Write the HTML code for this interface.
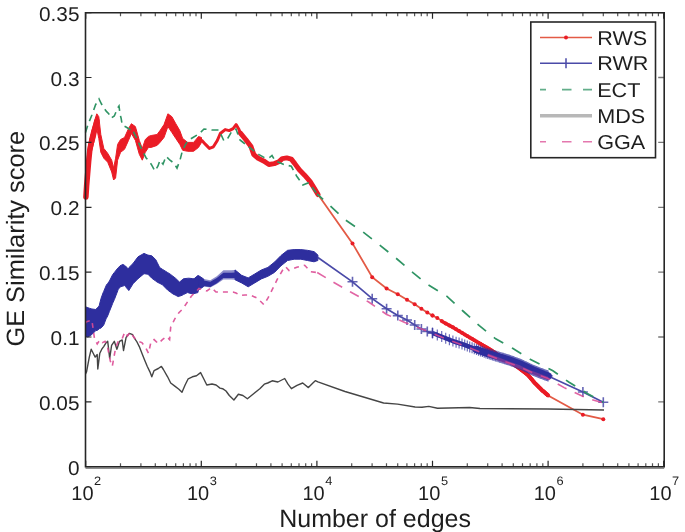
<!DOCTYPE html>
<html><head><meta charset="utf-8"><style>
html,body{margin:0;padding:0;background:#fff;}
svg{display:block;will-change:transform;}
text{font-family:"Liberation Sans",sans-serif;fill:#1e1e1e;}
</style></head><body>
<svg width="685" height="532" viewBox="0 0 685 532" text-rendering="geometricPrecision">
<polygon points="85.5,175.0 87.0,160.0 88.5,145.0 89.9,138.0 91.9,130.0 93.9,124.0 95.4,118.0 96.8,113.8 98.8,116.7 100.8,134.5 103.8,148.4 107.7,153.3 111.7,160.2 113.6,168.0 115.6,158.2 117.6,144.4 120.6,139.5 124.5,137.5 128.5,128.6 131.4,123.7 135.4,126.6 139.3,140.4 142.3,148.4 145.3,139.5 148.5,136.4 151.2,135.5 157.1,134.5 160.0,130.6 164.0,124.6 167.9,113.8 171.9,116.7 175.8,123.7 179.8,130.6 182.7,138.5 187.7,142.4 193.6,142.4 198.5,136.5 201.5,137.5 201.5,142.4 198.5,147.4 193.6,151.3 187.7,151.3 182.7,150.3 179.8,144.4 175.8,138.5 171.9,132.5 167.9,126.6 164.0,137.5 160.0,142.4 157.1,145.4 151.2,147.4 148.5,147.4 145.3,152.3 142.3,160.2 139.3,154.3 135.4,140.4 131.4,133.5 128.5,140.4 124.5,149.3 120.6,152.3 117.6,160.2 115.6,178.0 113.6,180.0 111.7,172.0 107.7,162.2 103.8,158.2 100.8,152.3 98.8,138.5 96.8,128.6 95.4,134.0 93.9,142.0 91.9,150.0 89.9,157.0 88.5,172.0 87.0,190.0 85.5,199.0" fill="#ea1c26" stroke="#ea1c26" stroke-width="1" stroke-linejoin="round"/>
<polyline points="85.9,197 86.6,186 87.6,174 88.6,162 89.8,150 91,144 93,137 95,128 96.8,121" fill="none" stroke="#ea1c26" stroke-width="5.5" stroke-linejoin="round" stroke-linecap="round"/>
<polyline points="201.5,140.0 205.5,144.4 209.4,148.4 213.4,146.8 217.3,140.5 220.3,133.5 225.2,129.6 229.2,130.6 233.1,128.6 236.1,124.6 239.0,129.6 240.4,133.2" fill="none" stroke="#ea1c26" stroke-width="3" stroke-linejoin="round"/>
<polyline points="240.4,133.2 245.7,139.5 251.0,146.6 253.8,154.6 258.2,158.2 263.6,160.9 268.9,164.5 274.3,163.6 278.8,161.8 282.3,158.6 286.8,157.9 291.3,159.1 294.8,163.6 299.3,169.8 304.6,175.2 310.0,181.4 314.5,188.6 318.0,194.5" fill="none" stroke="#ea1c26" stroke-width="5" stroke-linejoin="round" stroke-linecap="round"/>
<polyline points="318.0,194.5 352.5,243.4 372.2,277.2 386.6,288.5 397.8,294.2 407.0,299.8 414.7,304.3 421.4,308.8 427.3,312.5 432.5,315.5 438.2,318.4 442.1,321.5 453.9,327.9 465.1,334.7 476.4,341.4 490.8,350.0 499.0,355.5 505.0,357.5 510.3,362.0 519.0,368.0 528.0,375.0 534.8,383.0 541.6,389.8 548.1,395.5 582.9,414.7 603.3,419.2" fill="none" stroke="#e35a45" stroke-width="1.8"/>
<polyline points="442.1,321.5 453.9,327.9 465.1,334.7 476.4,341.4 490.8,350.0 499.0,355.5 505.0,357.5 510.3,362.0 519.0,368.0 528.0,375.0 534.8,383.0 541.6,389.8 548.1,395.5" fill="none" stroke="#ea1c26" stroke-width="3.5" stroke-linejoin="round"/>
<g fill="#ea1c26"><circle cx="352.5" cy="243.4" r="2"/><circle cx="372.2" cy="277.2" r="2"/><circle cx="386.6" cy="288.5" r="2"/><circle cx="397.8" cy="294.2" r="2"/><circle cx="407.0" cy="299.8" r="2"/><circle cx="414.7" cy="304.3" r="2"/><circle cx="421.4" cy="308.8" r="2"/><circle cx="427.3" cy="312.5" r="2"/><circle cx="432.5" cy="315.5" r="2"/><circle cx="582.9" cy="414.7" r="2"/><circle cx="603.3" cy="419.2" r="2"/><circle cx="432.5" cy="315.5" r="2"/><circle cx="437.3" cy="317.9" r="2"/><circle cx="441.7" cy="321.1" r="2"/><circle cx="445.7" cy="323.4" r="2"/><circle cx="449.4" cy="325.5" r="2"/><circle cx="452.9" cy="327.3" r="2"/><circle cx="456.1" cy="329.2" r="2"/><circle cx="459.1" cy="331.1" r="2"/><circle cx="462.0" cy="332.8" r="2"/><circle cx="464.7" cy="334.5" r="2"/><circle cx="467.3" cy="336.0" r="2"/><circle cx="469.7" cy="337.5" r="2"/><circle cx="472.1" cy="338.8" r="2"/><circle cx="474.3" cy="340.2" r="2"/><circle cx="476.5" cy="341.4" r="2"/><circle cx="478.5" cy="342.7" r="2"/><circle cx="480.5" cy="343.8" r="2"/><circle cx="482.4" cy="345.0" r="2"/><circle cx="484.2" cy="346.1" r="2"/><circle cx="486.0" cy="347.1" r="2"/><circle cx="487.7" cy="348.1" r="2"/><circle cx="489.3" cy="349.1" r="2"/><circle cx="490.9" cy="350.1" r="2"/><circle cx="492.4" cy="351.1" r="2"/><circle cx="493.9" cy="352.1" r="2"/><circle cx="495.4" cy="353.1" r="2"/><circle cx="496.8" cy="354.0" r="2"/><circle cx="498.2" cy="355.0" r="2"/><circle cx="499.5" cy="355.7" r="2"/><circle cx="500.8" cy="356.1" r="2"/><circle cx="502.1" cy="356.5" r="2"/><circle cx="503.3" cy="356.9" r="2"/><circle cx="504.5" cy="357.3" r="2"/><circle cx="505.7" cy="358.1" r="2"/><circle cx="506.9" cy="359.1" r="2"/><circle cx="508.0" cy="360.1" r="2"/><circle cx="509.1" cy="361.0" r="2"/><circle cx="510.2" cy="361.9" r="2"/><circle cx="511.3" cy="362.7" r="2"/><circle cx="512.3" cy="363.4" r="2"/><circle cx="513.3" cy="364.1" r="2"/><circle cx="514.3" cy="364.8" r="2"/><circle cx="515.3" cy="365.4" r="2"/><circle cx="516.2" cy="366.1" r="2"/><circle cx="517.2" cy="366.7" r="2"/><circle cx="518.1" cy="367.4" r="2"/><circle cx="519.0" cy="368.0" r="2"/><circle cx="519.9" cy="368.7" r="2"/><circle cx="520.8" cy="369.4" r="2"/><circle cx="521.6" cy="370.0" r="2"/><circle cx="522.5" cy="370.7" r="2"/><circle cx="523.3" cy="371.3" r="2"/><circle cx="524.1" cy="372.0" r="2"/><circle cx="524.9" cy="372.6" r="2"/><circle cx="525.7" cy="373.2" r="2"/><circle cx="526.5" cy="373.8" r="2"/><circle cx="527.2" cy="374.4" r="2"/><circle cx="528.0" cy="375.0" r="2"/><circle cx="528.7" cy="375.9" r="2"/><circle cx="529.5" cy="376.7" r="2"/><circle cx="530.2" cy="377.6" r="2"/><circle cx="530.9" cy="378.4" r="2"/><circle cx="531.6" cy="379.2" r="2"/><circle cx="532.3" cy="380.1" r="2"/><circle cx="533.0" cy="380.9" r="2"/><circle cx="533.7" cy="381.7" r="2"/><circle cx="534.3" cy="382.4" r="2"/><circle cx="535.0" cy="383.2" r="2"/><circle cx="535.6" cy="383.8" r="2"/><circle cx="536.3" cy="384.5" r="2"/><circle cx="536.9" cy="385.1" r="2"/><circle cx="537.5" cy="385.7" r="2"/><circle cx="538.1" cy="386.3" r="2"/><circle cx="538.7" cy="386.9" r="2"/><circle cx="539.3" cy="387.5" r="2"/><circle cx="539.9" cy="388.1" r="2"/><circle cx="540.5" cy="388.7" r="2"/><circle cx="541.1" cy="389.3" r="2"/><circle cx="541.7" cy="389.9" r="2"/><circle cx="542.2" cy="390.4" r="2"/><circle cx="542.8" cy="390.9" r="2"/><circle cx="543.4" cy="391.3" r="2"/><circle cx="543.9" cy="391.8" r="2"/><circle cx="544.5" cy="392.3" r="2"/><circle cx="545.0" cy="392.8" r="2"/><circle cx="545.5" cy="393.2" r="2"/><circle cx="546.1" cy="393.7" r="2"/><circle cx="546.6" cy="394.2" r="2"/><circle cx="547.1" cy="394.6" r="2"/><circle cx="547.6" cy="395.1" r="2"/><circle cx="548.1" cy="395.5" r="2"/></g>
<polygon points="85.5,306.8 87.9,307.7 89.3,308.2 91.9,309.0 92.0,309.0 95.8,309.5 97.2,307.9 99.1,306.1 99.2,305.6 101.1,298.2 103.0,293.0 103.7,291.4 106.0,285.9 106.4,285.0 107.7,283.4 108.0,283.0 109.4,281.1 112.7,274.5 112.9,274.3 114.3,272.5 114.4,272.4 117.8,268.1 118.2,267.9 120.0,265.8 122.9,264.4 124.6,265.4 125.5,266.0 127.9,268.6 128.8,267.7 133.0,263.5 138.0,256.8 144.0,253.4 147.9,255.1 151.8,255.8 155.8,259.7 157.1,262.3 159.7,267.6 162.4,269.3 165.0,270.9 167.6,272.5 170.3,274.2 172.9,276.2 175.5,278.2 178.2,280.8 179.5,282.1 182.1,279.9 183.4,278.8 187.4,278.3 188.7,278.2 192.6,278.6 194.0,278.8 197.9,275.5 198.4,275.5 203.7,279.0 203.7,286.5 198.4,290.0 197.9,292.6 194.0,293.6 192.6,293.9 188.7,292.9 187.4,292.6 183.4,294.6 182.1,295.3 179.5,296.2 178.2,296.6 175.5,295.2 172.9,293.9 170.3,292.0 167.6,290.0 165.0,287.4 162.4,284.7 159.7,283.4 157.1,282.1 155.8,281.1 151.8,278.2 147.9,274.2 144.0,273.7 138.0,278.7 133.0,283.8 128.8,290.6 127.9,289.5 125.5,286.6 124.6,285.5 122.9,286.1 120.0,287.0 118.2,289.6 117.8,290.6 114.4,299.5 114.3,299.7 112.9,302.8 112.7,303.3 109.4,311.5 108.0,315.1 107.7,315.9 106.4,318.3 106.0,319.0 103.7,325.1 103.0,325.9 101.1,327.9 99.2,328.8 99.1,328.9 97.2,330.4 95.8,330.6 92.0,334.4 91.9,334.5 89.3,336.2 87.9,337.1 85.5,336.0" fill="#2e2e9e" stroke="#2e2e9e" stroke-width="1" stroke-linejoin="round"/>
<polygon points="198.4,275.5 203.7,279.0 210.3,280.3 216.8,276.3 223.4,270.3 231.3,270.3 235.0,269.9 241.6,275.3 241.6,282.9 235.0,279.7 231.3,279.5 223.4,279.5 216.8,283.9 210.3,287.4 203.7,286.5 198.4,290.0" fill="#2e2e9e" fill-opacity="0.55" stroke="none"/>
<polygon points="198.4,280.6 203.7,280.6 210.3,281.7 216.8,277.9 223.4,272.7 231.3,272.7 235.0,272.6 241.6,276.9 241.6,282.3 235.0,278.0 231.3,278.1 223.4,278.1 216.8,283.3 210.3,287.1 203.7,285.9 198.4,285.9" fill="#2e2e9e" stroke="none"/>
<polygon points="235.0,269.9 241.6,275.3 248.2,277.9 254.7,274.0 261.3,270.0 267.9,267.4 274.5,262.1 281.0,255.5 287.6,250.3 294.2,249.6 300.8,249.6 307.4,250.3 314.0,251.6 317.9,255.0 317.9,260.5 314.0,261.8 307.4,260.5 300.8,259.2 294.2,259.2 287.6,260.5 281.0,265.8 274.5,272.4 267.9,276.3 261.3,278.9 254.7,282.9 248.2,286.8 241.6,282.9 235.0,279.7" fill="#2e2e9e" stroke="#2e2e9e" stroke-width="1" stroke-linejoin="round"/>
<polyline points="317.9,257.5 352.5,281.8 372.2,298.7 386.6,308.8 397.8,315.6 407.0,320.0 414.7,325.0 421.4,329.0 427.3,331.5 432.5,333.0 442.6,337.0 453.9,341.5 464.5,344.8 476.4,349.5 487.7,353.5 499.0,357.0 510.3,360.5 521.6,364.8 532.6,370.0 543.9,374.5 548.1,376.0 582.9,392.0 603.3,402.2" fill="none" stroke="#4a4aa8" stroke-width="1.7"/>
<polyline points="432.5,333.0 442.6,337.0 453.9,341.5 464.5,344.8 476.4,349.5 487.7,353.5 499.0,357.0 510.3,360.5 521.6,364.8 532.6,370.0 543.9,374.5 548.1,376.0" fill="none" stroke="#2e2e9e" stroke-width="4.5" stroke-linejoin="round"/>
<polyline points="476.4,349.5 487.7,353.5 499.0,357.0 510.3,360.5 521.6,364.8 532.6,370.0 543.9,374.5 548.1,376.0" fill="none" stroke="#2e2e9e" stroke-width="7.5" stroke-linejoin="round" stroke-linecap="round"/>
<path d="M347.5 281.8h10M352.5 276.8v10M367.2 298.7h10M372.2 293.7v10M381.6 308.8h10M386.6 303.8v10M392.8 315.6h10M397.8 310.6v10M402.0 320.0h10M407.0 315.0v10M409.7 325.0h10M414.7 320.0v10M416.4 329.0h10M421.4 324.0v10M422.3 331.5h10M427.3 326.5v10M427.5 333.0h10M432.5 328.0v10M577.9 392.0h10M582.9 387.0v10M598.3 402.2h10M603.3 397.2v10" stroke="#4a4aa8" stroke-width="1.6" opacity="0.85"/>
<path d="M427.5 333.0h10M432.5 327.5v11M432.3 334.9h10M437.3 329.4v11M436.7 336.6h10M441.7 331.1v11M440.7 338.2h10M445.7 332.7v11M444.4 339.7h10M449.4 334.2v11M447.9 341.1h10M452.9 335.6v11M451.1 342.2h10M456.1 336.7v11M454.1 343.1h10M459.1 337.6v11M457.0 344.0h10M462.0 338.5v11M459.7 344.9h10M464.7 339.4v11M462.3 345.9h10M467.3 340.4v11M464.7 346.9h10M469.7 341.4v11M467.1 347.8h10M472.1 342.3v11M469.3 348.7h10M474.3 343.2v11M471.5 349.5h10M476.5 344.0v11M473.5 350.2h10M478.5 344.7v11M475.5 350.9h10M480.5 345.4v11M477.4 351.6h10M482.4 346.1v11M479.2 352.3h10M484.2 346.8v11M481.0 352.9h10M486.0 347.4v11M482.7 353.5h10M487.7 348.0v11M484.3 354.0h10M489.3 348.5v11M485.9 354.5h10M490.9 349.0v11M487.4 355.0h10M492.4 349.5v11M488.9 355.4h10M493.9 349.9v11M490.4 355.9h10M495.4 350.4v11M491.8 356.3h10M496.8 350.8v11M493.2 356.7h10M498.2 351.2v11M494.5 357.2h10M499.5 351.7v11M495.8 357.6h10M500.8 352.1v11M497.1 358.0h10M502.1 352.5v11M498.3 358.3h10M503.3 352.8v11M499.5 358.7h10M504.5 353.2v11M500.7 359.1h10M505.7 353.6v11M501.9 359.4h10M506.9 353.9v11M503.0 359.8h10M508.0 354.3v11M504.1 360.1h10M509.1 354.6v11M505.2 360.5h10M510.2 355.0v11M506.3 360.9h10M511.3 355.4v11M507.3 361.3h10M512.3 355.8v11M508.3 361.6h10M513.3 356.1v11M509.3 362.0h10M514.3 356.5v11M510.3 362.4h10M515.3 356.9v11M511.2 362.8h10M516.2 357.3v11M512.2 363.1h10M517.2 357.6v11M513.1 363.5h10M518.1 358.0v11M514.0 363.8h10M519.0 358.3v11M514.9 364.1h10M519.9 358.6v11M515.8 364.5h10M520.8 359.0v11M516.6 364.8h10M521.6 359.3v11M517.5 365.2h10M522.5 359.7v11M518.3 365.6h10M523.3 360.1v11M519.1 366.0h10M524.1 360.5v11M519.9 366.4h10M524.9 360.9v11M520.7 366.7h10M525.7 361.2v11M521.5 367.1h10M526.5 361.6v11M522.2 367.5h10M527.2 362.0v11M523.0 367.8h10M528.0 362.3v11M523.7 368.2h10M528.7 362.7v11M524.5 368.5h10M529.5 363.0v11M525.2 368.9h10M530.2 363.4v11M525.9 369.2h10M530.9 363.7v11M526.6 369.5h10M531.6 364.0v11M527.3 369.9h10M532.3 364.4v11M528.0 370.2h10M533.0 364.7v11M528.7 370.4h10M533.7 364.9v11M529.3 370.7h10M534.3 365.2v11M530.0 370.9h10M535.0 365.4v11M530.6 371.2h10M535.6 365.7v11M531.3 371.5h10M536.3 366.0v11M531.9 371.7h10M536.9 366.2v11M532.5 372.0h10M537.5 366.5v11M533.1 372.2h10M538.1 366.7v11M533.7 372.4h10M538.7 366.9v11M534.3 372.7h10M539.3 367.2v11M534.9 372.9h10M539.9 367.4v11M535.5 373.2h10M540.5 367.7v11M536.1 373.4h10M541.1 367.9v11M536.7 373.6h10M541.7 368.1v11M537.2 373.8h10M542.2 368.3v11M537.8 374.1h10M542.8 368.6v11M538.4 374.3h10M543.4 368.8v11M538.9 374.5h10M543.9 369.0v11M539.5 374.7h10M544.5 369.2v11M540.0 374.9h10M545.0 369.4v11M540.5 375.1h10M545.5 369.6v11M541.1 375.3h10M546.1 369.8v11M541.6 375.5h10M546.6 370.0v11M542.1 375.6h10M547.1 370.1v11M542.6 375.8h10M547.6 370.3v11M543.1 376.0h10M548.1 370.5v11" stroke="#2e2e9e" stroke-width="1.2" opacity="0.7"/>
<polyline points="85.5,132.5 88.0,124.6 92.0,114.8 95.5,104.9 99.0,99.0 101.5,104.0 104.0,108.0 106.4,111.4 108.7,113.7 111.0,118.2 114.3,116.0 117.7,108.0 119.0,106.0 120.0,113.7 121.1,118.2 122.2,125.0 126.0,127.0 130.0,129.5 131.3,128.4 133.5,131.8 137.0,139.0 141.4,148.7 146.0,157.7 151.2,164.2 155.0,171.0 158.0,166.0 160.0,160.2 163.0,164.2 166.0,156.3 170.0,160.2 174.0,163.2 177.0,168.1 180.0,160.2 182.0,152.3 185.0,145.4 188.0,140.4 193.0,137.5 198.0,134.5 200.0,133.0 204.0,129.0 212.0,130.0 219.0,130.0 224.0,141.0 228.0,138.0 232.0,131.0 236.0,129.0 240.0,140.0 243.9,143.0 252.9,150.2 259.1,154.6 265.0,158.0 269.8,157.3 272.0,155.5 275.2,160.9 284.1,164.5 291.3,166.3 296.6,176.0 302.9,185.0 308.0,183.0 311.8,186.8 317.1,194.0" fill="none" stroke="#2f9464" stroke-width="1.6" stroke-dasharray="7,5"/>
<polyline points="317.1,194.0 327.0,202.7 345.0,219.7 363.0,232.0 379.0,244.5 397.0,259.0 412.9,272.7 426.8,283.9 447.0,296.4 463.5,311.5 479.3,325.7 495.7,338.8 512.6,348.3 530.6,359.6 552.9,370.8 568.7,382.0 586.7,393.2 603.3,402.2" fill="none" stroke="#2f9464" stroke-width="1.7" stroke-dasharray="11,10" stroke-dashoffset="3"/>
<polyline points="85.5,374.0 86.6,371.6 89.3,357.1 91.2,349.2 93.2,353.2 95.2,357.1 97.2,354.5 97.8,369.0 99.8,353.2 101.8,349.2 103.7,346.6 105.7,343.3 107.7,341.3 109.7,358.4 111.6,345.3 114.3,341.3 116.9,349.2 119.5,341.3 122.2,340.0 123.5,350.5 126.1,337.4 129.4,333.4 132.7,334.7 134.7,338.7 136.6,341.3 139.3,346.6 141.9,353.2 144.5,359.7 147.2,366.3 149.8,371.6 151.8,376.8 154.1,370.6 158.3,368.5 161.4,366.4 163.4,369.5 167.6,376.8 170.7,383.0 174.8,386.1 178.9,389.2 182.0,392.3 185.1,385.0 188.2,378.8 192.4,376.8 196.5,375.7 200.6,372.6 203.7,378.8 206.8,385.0 212.0,384.0 216.1,385.0 220.0,388.1 222.6,388.7 226.0,391.0 229.3,395.5 233.9,400.0 238.4,394.3 242.9,395.5 247.4,398.8 254.2,393.2 259.8,388.7 264.3,384.2 267.7,383.0 272.2,380.8 277.9,382.0 284.7,378.5 288.0,384.2 291.4,388.7 297.0,385.3 302.7,383.0 308.4,387.6 312.9,383.0 315.3,380.7 317.9,381.9 345.0,391.5 383.6,403.0 397.6,404.1 415.1,407.0 422.0,407.3 428.8,406.4 437.5,408.3 469.6,407.5 480.0,408.5 548.0,409.0 604.0,410.0" fill="none" stroke="#454545" stroke-width="1.4" stroke-linejoin="round"/>
<polyline points="85.5,323.0 86.6,321.6 91.9,320.3 94.5,338.7 97.2,344.0 99.8,340.0 102.4,342.6 105.0,341.3 107.7,347.9 110.3,361.0 112.3,366.3 115.6,347.9 118.2,341.3 122.2,338.7 124.8,332.1 127.4,336.0 130.0,332.1 134.0,337.4 137.9,341.3 141.9,342.6 145.8,347.9 148.5,353.2 151.1,341.3 154.1,339.6 158.3,343.7 162.4,339.6 166.5,336.5 169.6,339.6 170.7,327.2 174.8,318.9 178.9,312.7 183.0,308.6 187.2,302.4 191.3,296.2 195.5,292.0 199.0,288.5 203.0,290.0 207.0,291.0 211.3,287.6 216.0,292.0 222.6,292.0 229.0,292.0 233.0,292.0 236.0,293.0 240.3,295.5 245.0,295.0 250.1,294.9 257.4,298.2 263.9,304.7 267.9,298.2 273.2,287.6 277.1,279.7 282.4,270.5 285.5,266.6 289.0,270.5 296.8,267.2 304.7,265.3 310.7,271.8 317.2,272.5" fill="none" stroke="#dc4a94" stroke-width="1.6" stroke-dasharray="5,5" opacity="0.9"/>
<polyline points="317.2,272.5 332.6,281.8 350.6,292.0 368.7,302.0 386.7,314.5 404.8,322.4 425.0,330.3 442.6,337.5 465.0,346.0 487.7,355.0 505.0,361.5 520.0,367.0 532.0,372.5 548.0,378.5 564.2,387.6 585.6,397.7 603.3,403.0" fill="none" stroke="#dc4a94" stroke-width="1.6" stroke-dasharray="10,9" opacity="0.85"/>
<polyline points="487.7,355.0 505.0,361.5 520.0,367.0 532.0,372.5 548.0,378.5" fill="none" stroke="#dc4a94" stroke-width="3" opacity="0.35" stroke-linejoin="round"/>
<path d="M85.7 466.7v-6M85.7 12.7v6M201.3 466.7v-6M201.3 12.7v6M316.9 466.7v-6M316.9 12.7v6M432.5 466.7v-6M432.5 12.7v6M548.1 466.7v-6M548.1 12.7v6M663.7 466.7v-6M663.7 12.7v6M85.5 466.7h6M85.5 401.8h6M85.5 337.0h6M85.5 272.1h6M85.5 207.3h6M85.5 142.4h6M85.5 77.5h6M85.5 12.7h6" stroke="#262626" stroke-width="1.2" fill="none"/>
<path d="M120.5 466.7v-3.5M120.5 12.7v3.5M140.9 466.7v-3.5M140.9 12.7v3.5M155.3 466.7v-3.5M155.3 12.7v3.5M166.5 466.7v-3.5M166.5 12.7v3.5M175.7 466.7v-3.5M175.7 12.7v3.5M183.4 466.7v-3.5M183.4 12.7v3.5M190.1 466.7v-3.5M190.1 12.7v3.5M196.0 466.7v-3.5M196.0 12.7v3.5M236.1 466.7v-3.5M236.1 12.7v3.5M256.5 466.7v-3.5M256.5 12.7v3.5M270.9 466.7v-3.5M270.9 12.7v3.5M282.1 466.7v-3.5M282.1 12.7v3.5M291.3 466.7v-3.5M291.3 12.7v3.5M299.0 466.7v-3.5M299.0 12.7v3.5M305.7 466.7v-3.5M305.7 12.7v3.5M311.6 466.7v-3.5M311.6 12.7v3.5M351.7 466.7v-3.5M351.7 12.7v3.5M372.1 466.7v-3.5M372.1 12.7v3.5M386.5 466.7v-3.5M386.5 12.7v3.5M397.7 466.7v-3.5M397.7 12.7v3.5M406.9 466.7v-3.5M406.9 12.7v3.5M414.6 466.7v-3.5M414.6 12.7v3.5M421.3 466.7v-3.5M421.3 12.7v3.5M427.2 466.7v-3.5M427.2 12.7v3.5M467.3 466.7v-3.5M467.3 12.7v3.5M487.7 466.7v-3.5M487.7 12.7v3.5M502.1 466.7v-3.5M502.1 12.7v3.5M513.3 466.7v-3.5M513.3 12.7v3.5M522.5 466.7v-3.5M522.5 12.7v3.5M530.2 466.7v-3.5M530.2 12.7v3.5M536.9 466.7v-3.5M536.9 12.7v3.5M542.8 466.7v-3.5M542.8 12.7v3.5M582.9 466.7v-3.5M582.9 12.7v3.5M603.3 466.7v-3.5M603.3 12.7v3.5M617.7 466.7v-3.5M617.7 12.7v3.5M628.9 466.7v-3.5M628.9 12.7v3.5M638.1 466.7v-3.5M638.1 12.7v3.5M645.8 466.7v-3.5M645.8 12.7v3.5M652.5 466.7v-3.5M652.5 12.7v3.5M658.4 466.7v-3.5M658.4 12.7v3.5" stroke="#555" stroke-width="1.2" fill="none"/>
<path d="M664.2 466.7h-6M664.2 401.8h-6M664.2 337.0h-6M664.2 272.1h-6M664.2 207.3h-6M664.2 142.4h-6M664.2 77.5h-6M664.2 12.7h-6" stroke="#777" stroke-width="1.3" fill="none"/>
<path d="M85.5 12.7H664.2V466.7H85.5Z" fill="none" stroke="#262626" stroke-width="1.6"/>
<path d="M85.5 468.0H664.2" stroke="#6a6a6a" stroke-width="1.6"/>
<text x="79.5" y="474.7" text-anchor="end" transform="translate(79.5 0) scale(1.04 1) translate(-79.5 0)" style="font-size:20px">0</text>
<text x="79.5" y="409.8" text-anchor="end" transform="translate(79.5 0) scale(1.04 1) translate(-79.5 0)" style="font-size:20px">0.05</text>
<text x="79.5" y="345.0" text-anchor="end" transform="translate(79.5 0) scale(1.04 1) translate(-79.5 0)" style="font-size:20px">0.1</text>
<text x="79.5" y="280.1" text-anchor="end" transform="translate(79.5 0) scale(1.04 1) translate(-79.5 0)" style="font-size:20px">0.15</text>
<text x="79.5" y="215.3" text-anchor="end" transform="translate(79.5 0) scale(1.04 1) translate(-79.5 0)" style="font-size:20px">0.2</text>
<text x="79.5" y="150.4" text-anchor="end" transform="translate(79.5 0) scale(1.04 1) translate(-79.5 0)" style="font-size:20px">0.25</text>
<text x="79.5" y="85.5" text-anchor="end" transform="translate(79.5 0) scale(1.04 1) translate(-79.5 0)" style="font-size:20px">0.3</text>
<text x="79.5" y="20.7" text-anchor="end" transform="translate(79.5 0) scale(1.04 1) translate(-79.5 0)" style="font-size:20px">0.35</text>
<text x="71.3" y="499.8" style="font-size:20px">10</text>
<text x="94.1" y="485.3" transform="translate(94.1 0) scale(1.05 1) translate(-94.1 0)" style="font-size:12.2px">2</text>
<text x="186.9" y="499.8" style="font-size:20px">10</text>
<text x="209.7" y="485.3" transform="translate(209.7 0) scale(1.05 1) translate(-209.7 0)" style="font-size:12.2px">3</text>
<text x="302.5" y="499.8" style="font-size:20px">10</text>
<text x="325.3" y="485.3" transform="translate(325.3 0) scale(1.05 1) translate(-325.3 0)" style="font-size:12.2px">4</text>
<text x="418.1" y="499.8" style="font-size:20px">10</text>
<text x="440.9" y="485.3" transform="translate(440.9 0) scale(1.05 1) translate(-440.9 0)" style="font-size:12.2px">5</text>
<text x="533.7" y="499.8" style="font-size:20px">10</text>
<text x="556.5" y="485.3" transform="translate(556.5 0) scale(1.05 1) translate(-556.5 0)" style="font-size:12.2px">6</text>
<text x="649.3" y="499.8" style="font-size:20px">10</text>
<text x="672.1" y="485.3" transform="translate(672.1 0) scale(1.05 1) translate(-672.1 0)" style="font-size:12.2px">7</text>
<text x="279.2" y="526.6" style="font-size:25px">Number of edges</text>
<text transform="translate(23.6 346.6) rotate(-90) scale(1.015 1)" style="font-size:25px">GE Similarity score</text>
<rect x="530.8" y="22" width="124.7" height="135.7" fill="#fff" stroke="#262626" stroke-width="1.6"/>
<path d="M540 37.5H592" stroke="#e35a45" stroke-width="1.6"/><circle cx="566" cy="37.5" r="2" fill="#ea1c26"/>
<path d="M540 63.2H592M566 58.2v10" stroke="#4a4aa8" stroke-width="1.5"/>
<path d="M540 89.6h6M562 89.6h9.5M583 89.6h9" stroke="#2f9464" stroke-width="1.6" opacity="0.75"/>
<path d="M540 115.7H592" stroke="#b8b8b8" stroke-width="3.6"/>
<path d="M540 141.8h6M562 141.8h9.5M583 141.8h9" stroke="#dc4a94" stroke-width="1.6" opacity="0.75"/>
<text x="597.2" y="44.7" transform="translate(597.2 0) scale(1.08 1) translate(-597.2 0)" style="font-size:20px">RWS</text>
<text x="597.2" y="70.4" transform="translate(597.2 0) scale(1.08 1) translate(-597.2 0)" style="font-size:20px">RWR</text>
<text x="597.2" y="96.8" transform="translate(597.2 0) scale(1.08 1) translate(-597.2 0)" style="font-size:20px">ECT</text>
<text x="597.2" y="122.9" transform="translate(597.2 0) scale(1.08 1) translate(-597.2 0)" style="font-size:20px">MDS</text>
<text x="597.2" y="149.0" transform="translate(597.2 0) scale(1.08 1) translate(-597.2 0)" style="font-size:20px">GGA</text>
</svg>
</body></html>
